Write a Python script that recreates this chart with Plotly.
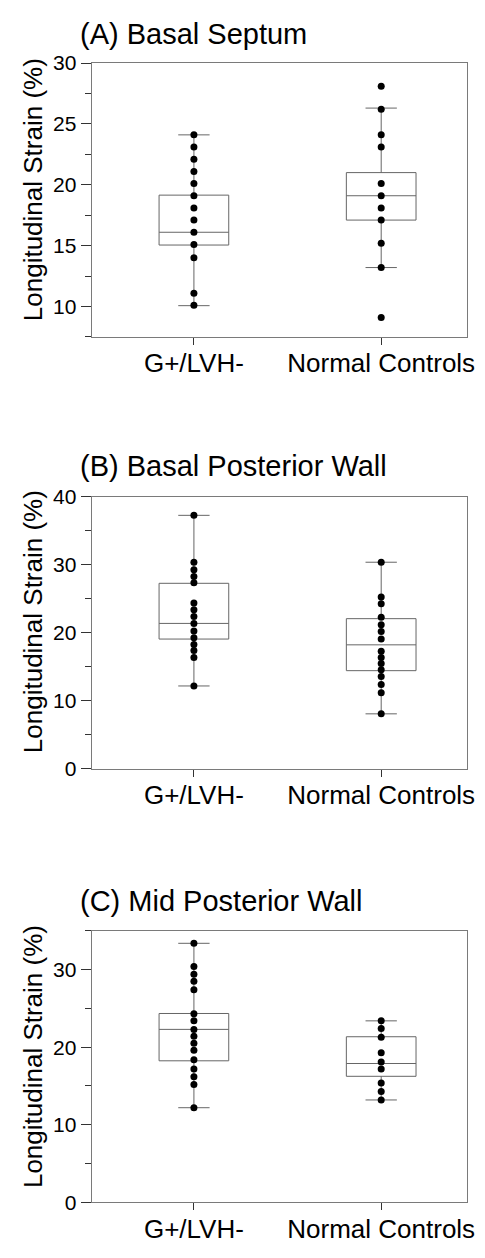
import plotly.graph_objects as go

W, H = 485, 1258

groups = ["G+/LVH-", "Normal Controls"]
panel_titles = ["(A) Basal Septum", "(B) Basal Posterior Wall", "(C) Mid Posterior Wall"]
y_title = "Longitudinal Strain (%)"

# Panel A: Basal Septum
a_g_pts = [24.1, 23.1, 22.1, 21.1, 20.1, 19.1, 18.1, 17.1, 16.1, 15.1, 14.0, 11.1, 10.1]
a_n_pts = [28.1, 26.2, 24.1, 23.1, 20.1, 19.1, 18.1, 17.1, 15.2, 13.2, 9.1]
a_q1 = [15.05, 17.1]
a_med = [16.1, 19.1]
a_q3 = [19.15, 21.0]
a_lo = [10.07, 13.2]
a_hi = [24.1, 26.3]

# Panel B: Basal Posterior Wall
b_g_pts = [37.3, 30.4, 29.3, 28.3, 27.4, 24.4, 23.4, 22.4, 21.4, 20.3, 19.3, 18.3, 17.4, 16.4, 12.2]
b_n_pts = [30.4, 25.3, 24.3, 22.3, 21.2, 20.2, 19.1, 17.3, 16.4, 15.5, 14.6, 13.6, 12.4, 11.2, 8.1]
b_q1 = [19.1, 14.45]
b_med = [21.4, 18.25]
b_q3 = [27.3, 22.1]
b_lo = [12.2, 8.1]
b_hi = [37.3, 30.4]

# Panel C: Mid Posterior Wall
c_g_pts = [33.4, 30.4, 29.4, 28.5, 27.4, 24.3, 23.4, 22.3, 21.4, 20.5, 19.6, 18.4, 17.2, 16.2, 15.2, 12.2]
c_n_pts = [23.4, 22.4, 21.3, 19.3, 18.1, 17.2, 15.4, 14.3, 13.2]
c_q1 = [18.25, 16.25]
c_med = [22.3, 17.9]
c_q3 = [24.35, 21.35]
c_lo = [12.2, 13.2]
c_hi = [33.4, 23.4]

y_ranges = [[7.5, 30], [0, 40], [0, 35]]
y_dticks = [5, 10, 10]
y_minor = [2.5, 5, 5]

panels = [
    (a_g_pts, a_n_pts, a_q1, a_med, a_q3, a_lo, a_hi),
    (b_g_pts, b_n_pts, b_q1, b_med, b_q3, b_lo, b_hi),
    (c_g_pts, c_n_pts, c_q1, c_med, c_q3, c_lo, c_hi),
]

# layout in pixels
px_top = [52, 494, 936]
px_bot = [331, 771, 1212.5]
title_y = [22, 462, 906]
ytitle_y = [181, 621, 1064]
px_left, px_right = 93, 474

FONT = "Liberation Sans, Arial, sans-serif"
LINE = "#7a7a7a"

fig = go.Figure()
for i, (gp, npts, q1, med, q3, lo, hi) in enumerate(panels):
    sfx = "" if i == 0 else str(i + 1)
    xa, ya = "x" + sfx, "y" + sfx
    fig.add_trace(go.Box(
        x=[0, 1], q1=q1, median=med, q3=q3, lowerfence=lo, upperfence=hi,
        width=0.372, whiskerwidth=0.45, fillcolor="rgba(255,255,255,0)",
        line=dict(color="#666666", width=1), boxpoints=False,
        xaxis=xa, yaxis=ya, showlegend=False, hoverinfo="skip"))
    xs = [0] * len(gp) + [1] * len(npts)
    fig.add_trace(go.Scatter(
        x=xs, y=gp + npts, mode="markers",
        marker=dict(color="black", size=7),
        xaxis=xa, yaxis=ya, showlegend=False, hoverinfo="skip"))

    dom_y = [1 - px_bot[i] / H, 1 - px_top[i] / H]
    fig.layout["xaxis" + sfx] = dict(
        domain=[px_left / W, px_right / W], range=[-0.546, 1.459],
        tickvals=[0, 1], ticktext=groups, ticks="outside", ticklen=7,
        tickcolor="#333", showgrid=False, zeroline=False,
        showline=True, linecolor=LINE, linewidth=1, mirror=True,
        tickfont=dict(family=FONT, size=26, color="black"),
        ticklabelstandoff=-4,
        anchor=ya, fixedrange=True)
    fig.layout["yaxis" + sfx] = dict(
        domain=dom_y, range=y_ranges[i], dtick=y_dticks[i], tick0=0,
        ticks="outside", ticklen=10, tickcolor="#333",
        minor=dict(dtick=y_minor[i], tick0=0, ticks="outside", ticklen=6, tickcolor="#333"),
        showgrid=False, zeroline=False, showline=True, linecolor=LINE,
        linewidth=1, mirror=True,
        tickfont=dict(family=FONT, size=21, color="black"),
        anchor=xa, fixedrange=True)

    fig.add_annotation(text=panel_titles[i], xref="paper", yref="paper",
                       x=79 / W, y=1 - title_y[i] / H, xanchor="left", yanchor="middle",
                       showarrow=False, font=dict(family=FONT, size=29, color="black"))
    fig.add_annotation(text=y_title, xref="paper", yref="paper", textangle=-90,
                       x=33 / W, y=1 - ytitle_y[i] / H,
                       xanchor="center", yanchor="middle", showarrow=False,
                       font=dict(family=FONT, size=26, color="black"))

fig.update_layout(width=W, height=H, margin=dict(l=0, r=0, t=0, b=0),
                  paper_bgcolor="white", plot_bgcolor="white", hovermode=False)
fig.write_html("out.html", config={"displayModeBar": False, "staticPlot": True},
               post_script="document.body.style.margin='0';document.body.style.overflow='hidden';")
